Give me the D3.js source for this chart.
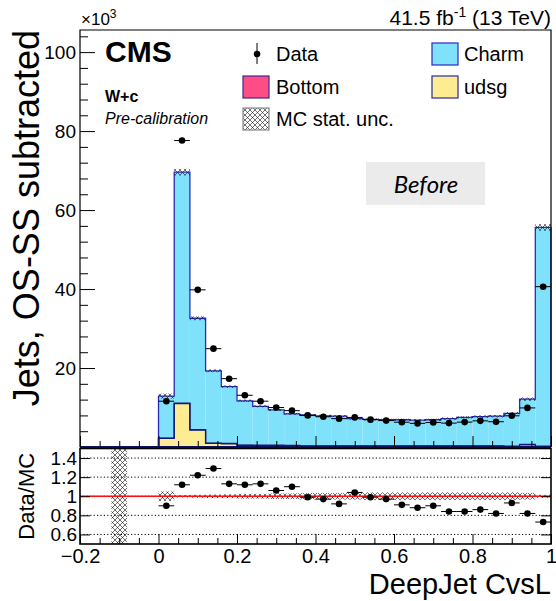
<!DOCTYPE html>
<html>
<head>
<meta charset="utf-8">
<script src="https://cdn.jsdelivr.net/npm/d3@7"></script>
<style>
  body { margin: 0; background: #fff; }
  svg { display: block; font-family: "Liberation Sans", Arial, Helvetica, sans-serif; }
</style>
</head>
<body>
<div id="chart"></div>
<script>
// bin edges of DeepJet CvsL
const binEdges = [0.00, 0.04, 0.08, 0.12, 0.16, 0.20, 0.24, 0.28, 0.32, 0.36, 0.40, 0.44, 0.48,
                  0.52, 0.56, 0.60, 0.64, 0.68, 0.72, 0.76, 0.80, 0.84, 0.88, 0.92, 0.96, 1.00];

// jets, x10^3
const dataVals   = [11.6, 77.6, 39.8, 24.9, 17.3, 13.1, 11.6, 10.0, 9.2, 8.0, 7.66, 7.18, 7.49,
                    6.93, 6.69, 6.28, 5.98, 6.21, 6.05, 6.3, 6.62, 6.4, 7.9, 9.9, 40.6];
const charmVals  = [10.65, 58.5, 28.2, 18.3, 14.4, 11.2, 9.85, 8.95, 8.0, 7.8, 7.6, 7.5, 6.9,
                    6.7, 6.6, 6.6, 6.5, 6.6, 6.9, 7.2, 7.4, 7.5, 8.3, 11.45, 55.4];
const bottomVals = [0.05, 0.1, 0.1, 0.1, 0.1, 0.1, 0.1, 0.1, 0.1, 0.1, 0.1, 0.1, 0.1,
                    0.1, 0.1, 0.1, 0.1, 0.1, 0.1, 0.1, 0.1, 0.1, 0.1, 0.6, 0.1];
const udsgVals   = [2.2, 11.0, 4.3, 0.9, 0.8, 0.4, 0.35, 0.35, 0.3, 0.2, 0.2, 0.2, 0.2,
                    0.2, 0.2, 0.2, 0.2, 0.2, 0.2, 0.2, 0.2, 0.2, 0.1, 0.05, 0.1];
// relative MC stat. uncertainty
const mcRelUnc   = [0.05, 0.012, 0.015, 0.018, 0.02, 0.025, 0.025, 0.03, 0.03, 0.035, 0.035, 0.035, 0.035,
                    0.04, 0.04, 0.04, 0.04, 0.04, 0.04, 0.04, 0.04, 0.04, 0.04, 0.035, 0.015];
const ratioVals  = [0.90, 1.12, 1.22, 1.29, 1.13, 1.12, 1.13, 1.06, 1.10, 0.99, 0.97, 0.92, 1.04,
                    0.99, 0.97, 0.91, 0.88, 0.90, 0.84, 0.84, 0.86, 0.82, 0.93, 0.82, 0.73];
// empty-MC bin in the ratio (full band)
const emptyBin = [-0.12, -0.08];

const xTicks      = [-0.2, 0, 0.2, 0.4, 0.6, 0.8, 1];
const yTicksMain  = [20, 40, 60, 80, 100];
const yTicksRatio = [0.6, 0.8, 1, 1.2, 1.4];

const colors = { charm: "#80e1fb", bottom: "#fe4d84", udsg: "#fdec92" };
const lineCol = { charm: "#2b2bbd", bottom: "#141a78", udsg: "#141a78" };

const W = 556, H = 601;
const left = 80, right = 551;
const mainTop = 30, mainBot = 447;
const ratTop = 448.5, ratBot = 544;

const x  = d3.scaleLinear().domain([-0.2, 1]).range([left, right]);
const y  = d3.scaleLinear().domain([0, 105.6]).range([mainBot, mainTop]);
const yr = d3.scaleLinear().domain([0.5, 1.5]).range([ratBot, ratTop]);

const rows = binEdges.slice(0, -1).map((lo, i) => ({
  lo: lo, hi: binEdges[i + 1],
  udsg: udsgVals[i], bottom: bottomVals[i], charm: charmVals[i],
  data: dataVals[i], unc: mcRelUnc[i], ratio: ratioVals[i]
}));
rows.forEach(r => r.total = r.udsg + r.bottom + r.charm);

const stacked = d3.stack().keys(["udsg", "bottom", "charm"])(rows);

const svg = d3.select("#chart").append("svg")
  .attr("width", W)
  .attr("height", H);

const defs = svg.append("defs");
defs.append("pattern")
  .attr("id", "hatch")
  .attr("patternUnits", "userSpaceOnUse")
  .attr("width", 5).attr("height", 5)
  .append("path")
    .attr("d", "M0,0L5,5M5,0L0,5")
    .attr("stroke", "#111")
    .attr("stroke-width", 0.6)
    .attr("fill", "none");

// ---------- main panel ----------
const main = svg.append("g");

main.selectAll("g.layer")
  .data(stacked).enter()
  .append("g")
    .attr("class", "layer")
    .attr("fill", d => colors[d.key])
    .selectAll("rect")
    .data(d => d).enter()
    .append("rect")
      .attr("x", d => x(d.data.lo))
      .attr("width", d => x(d.data.hi) - x(d.data.lo))
      .attr("y", d => y(d[1]))
      .attr("height", d => y(d[0]) - y(d[1]));

function stepPath(layer) {
  let p = "M" + x(0) + "," + y(0);
  layer.forEach(d => {
    p += "L" + x(d.data.lo) + "," + y(d[1]) + "L" + x(d.data.hi) + "," + y(d[1]);
  });
  return p + "L" + x(1) + "," + y(0);
}

main.selectAll("path.outline")
  .data(stacked).enter()
  .append("path")
    .attr("class", "outline")
    .attr("d", stepPath)
    .attr("fill", "none")
    .attr("stroke", d => lineCol[d.key])
    .attr("stroke-width", 1.3);

// MC stat. unc.
main.selectAll("rect.unc")
  .data(rows).enter()
  .append("rect")
    .attr("class", "unc")
    .attr("x", d => x(d.lo))
    .attr("width", d => x(d.hi) - x(d.lo))
    .attr("y", d => y(d.total * (1 + d.unc)))
    .attr("height", d => y(d.total * (1 - d.unc)) - y(d.total * (1 + d.unc)))
    .attr("fill", "url(#hatch)");

// bottom line of the histograms
main.append("line")
  .attr("x1", left).attr("x2", right)
  .attr("y1", mainBot).attr("y2", mainBot)
  .attr("stroke", "#101060").attr("stroke-width", 2.2);

// frame
main.append("path")
  .attr("d", `M${left},${mainBot}V${mainTop}H${right}V${mainBot}`)
  .attr("fill", "none").attr("stroke", "#000").attr("stroke-width", 1.2);

// y axis
const yAxisG = main.append("g").attr("transform", `translate(${left},0)`)
  .call(d3.axisLeft(y).tickValues(yTicksMain).tickSize(-15).tickPadding(4));
yAxisG.select(".domain").remove();
yAxisG.selectAll("text").attr("font-size", 19).attr("font-family", "Liberation Sans, Arial, sans-serif").attr("fill", "#000");
const yMinor = d3.range(4, 105, 4).filter(v => v % 20 !== 0);
const yMinorG = main.append("g").attr("transform", `translate(${left},0)`)
  .call(d3.axisLeft(y).tickValues(yMinor).tickSize(-8).tickFormat(""));
yMinorG.select(".domain").remove();

// x ticks on main bottom
const xMinor = d3.range(-0.2, 1.0001, 0.05).map(v => +v.toFixed(2)).filter(v => !xTicks.some(t => Math.abs(t - v) < 1e-6));
const xMainG = main.append("g").attr("transform", `translate(0,${mainBot})`)
  .call(d3.axisBottom(x).tickValues(xTicks).tickSize(-11).tickFormat(""));
xMainG.select(".domain").remove();
const xMainMinor = main.append("g").attr("transform", `translate(0,${mainBot})`)
  .call(d3.axisBottom(x).tickValues(xMinor).tickSize(-6).tickFormat(""));
xMainMinor.select(".domain").remove();
main.selectAll(".tick line").attr("stroke", "#000");

// data points
const pts = main.append("g");
pts.selectAll("line")
  .data(rows).enter()
  .append("line")
    .attr("x1", d => x(d.lo)).attr("x2", d => x(d.hi))
    .attr("y1", d => y(d.data)).attr("y2", d => y(d.data))
    .attr("stroke", "#000").attr("stroke-width", 1);
pts.selectAll("circle")
  .data(rows).enter()
  .append("circle")
    .attr("cx", d => (x(d.lo) + x(d.hi)) / 2)
    .attr("cy", d => y(d.data))
    .attr("r", 3.3)
    .attr("fill", "#000");

// ---------- ratio panel ----------
const rat = svg.append("g");

rat.selectAll("line.grid")
  .data(yTicksRatio).enter()
  .append("line")
    .attr("class", "grid")
    .attr("x1", left).attr("x2", right)
    .attr("y1", d => yr(d)).attr("y2", d => yr(d))
    .attr("stroke", "#000").attr("stroke-width", 1)
    .attr("stroke-dasharray", "1.2,2.2");

rat.append("rect")
  .attr("x", x(emptyBin[0])).attr("width", x(emptyBin[1]) - x(emptyBin[0]))
  .attr("y", ratTop).attr("height", ratBot - ratTop)
  .attr("fill", "url(#hatch)");

rat.selectAll("rect.unc")
  .data(rows).enter()
  .append("rect")
    .attr("class", "unc")
    .attr("x", d => x(d.lo))
    .attr("width", d => x(d.hi) - x(d.lo))
    .attr("y", d => yr(1 + d.unc))
    .attr("height", d => yr(1 - d.unc) - yr(1 + d.unc))
    .attr("fill", "url(#hatch)");

rat.append("line")
  .attr("x1", left).attr("x2", right)
  .attr("y1", yr(1)).attr("y2", yr(1))
  .attr("stroke", "#ff1010").attr("stroke-width", 1.4);

const rpts = rat.append("g");
rpts.selectAll("line")
  .data(rows).enter()
  .append("line")
    .attr("x1", d => x(d.lo)).attr("x2", d => x(d.hi))
    .attr("y1", d => yr(d.ratio)).attr("y2", d => yr(d.ratio))
    .attr("stroke", "#000").attr("stroke-width", 1);
rpts.selectAll("circle")
  .data(rows).enter()
  .append("circle")
    .attr("cx", d => (x(d.lo) + x(d.hi)) / 2)
    .attr("cy", d => yr(d.ratio))
    .attr("r", 3.3)
    .attr("fill", "#000");

rat.append("rect")
  .attr("x", left).attr("y", ratTop)
  .attr("width", right - left).attr("height", ratBot - ratTop)
  .attr("fill", "none").attr("stroke", "#000").attr("stroke-width", 1.6);

const fmtX = d => d === 0 ? "0" : d === 1 ? "1" : d3.format(".1f")(d);
const xRatG = rat.append("g").attr("transform", `translate(0,${ratBot})`)
  .call(d3.axisBottom(x).tickValues(xTicks).tickSize(-10).tickPadding(5).tickFormat(fmtX));
xRatG.select(".domain").remove();
xRatG.selectAll("text").attr("font-size", 20).attr("font-family", "Liberation Sans, Arial, sans-serif").attr("fill", "#000");
const xRatMinor = rat.append("g").attr("transform", `translate(0,${ratBot})`)
  .call(d3.axisBottom(x).tickValues(xMinor).tickSize(-6).tickFormat(""));
xRatMinor.select(".domain").remove();

const fmtR = d => d === 1 ? "1" : d3.format(".1f")(d);
const yRatG = rat.append("g").attr("transform", `translate(${left},0)`)
  .call(d3.axisLeft(yr).tickValues(yTicksRatio).tickSize(-10).tickPadding(3).tickFormat(fmtR));
yRatG.select(".domain").remove();
yRatG.selectAll("text").attr("font-size", 19).attr("font-family", "Liberation Sans, Arial, sans-serif").attr("fill", "#000");
const yRatR = rat.append("g").attr("transform", `translate(${right},0)`)
  .call(d3.axisRight(yr).tickValues(yTicksRatio).tickSize(-10).tickFormat(""));
yRatR.select(".domain").remove();
rat.selectAll(".tick line").attr("stroke", "#000");

// ---------- titles ----------
svg.append("text")
  .attr("transform", `translate(39,${mainTop}) rotate(-90)`)
  .attr("text-anchor", "end")
  .attr("font-size", 36)
  .text("Jets, OS-SS subtracted");

svg.append("text")
  .attr("transform", `translate(34,${(ratTop + ratBot) / 2}) rotate(-90)`)
  .attr("text-anchor", "middle")
  .attr("font-size", 22)
  .text("Data/MC");

svg.append("text")
  .attr("x", right).attr("y", 594)
  .attr("text-anchor", "end")
  .attr("font-size", 29)
  .text("DeepJet CvsL");

const exp = svg.append("text").attr("x", 81).attr("y", 25).attr("font-size", 17);
exp.append("tspan").text("\u00d710");
exp.append("tspan").attr("font-size", 12).attr("dy", -7).text("3");

const lumi = svg.append("text").attr("x", right).attr("y", 25).attr("text-anchor", "end").attr("font-size", 21);
lumi.append("tspan").text("41.5 fb");
lumi.append("tspan").attr("font-size", 14).attr("dy", -8).text("-1");
lumi.append("tspan").attr("dy", 8).text(" (13 TeV)");

svg.append("text").attr("x", 105).attr("y", 62)
  .attr("font-size", 30).attr("font-weight", "bold").text("CMS");
svg.append("text").attr("x", 105).attr("y", 102)
  .attr("font-size", 16).attr("font-weight", "bold").text("W+c");
svg.append("text").attr("x", 105).attr("y", 124)
  .attr("font-size", 16).attr("font-style", "italic").text("Pre-calibration");

// ---------- legend ----------
const leg = svg.append("g").attr("font-size", 20);
leg.append("line").attr("x1", 257).attr("x2", 257).attr("y1", 43).attr("y2", 64).attr("stroke", "#000");
leg.append("circle").attr("cx", 257).attr("cy", 54).attr("r", 3.3).attr("fill", "#000");

const legItems = [
  { label: "Data", tx: 276, ty: 54 },
  { label: "Charm", tx: 464, ty: 54, box: 432, fill: colors.charm, stroke: lineCol.charm },
  { label: "Bottom", tx: 276, ty: 87, box: 243, fill: colors.bottom, stroke: "#3a2a9a" },
  { label: "udsg", tx: 464, ty: 87, box: 432, fill: colors.udsg, stroke: "#2a2a9a" },
  { label: "MC stat. unc.", tx: 276, ty: 119, box: 243, fill: "url(#hatch)", stroke: "#888" }
];
legItems.forEach(it => {
  if (it.box !== undefined) {
    leg.append("rect")
      .attr("x", it.box).attr("y", it.ty - 11)
      .attr("width", 26).attr("height", 22)
      .attr("fill", it.fill).attr("stroke", it.stroke).attr("stroke-width", 1.2);
  }
  leg.append("text")
    .attr("x", it.tx).attr("y", it.ty)
    .attr("dy", "0.36em")
    .text(it.label);
});

// "Before" tag
svg.append("rect").attr("x", 366).attr("y", 162).attr("width", 119).attr("height", 43).attr("fill", "#ebebeb");
svg.append("text").attr("x", 426).attr("y", 184).attr("dy", "0.36em")
  .attr("text-anchor", "middle").attr("font-family", "Lato, 'Open Sans', sans-serif")
  .attr("font-style", "italic").attr("font-size", 24).text("Before");
</script>
</body>
</html>
